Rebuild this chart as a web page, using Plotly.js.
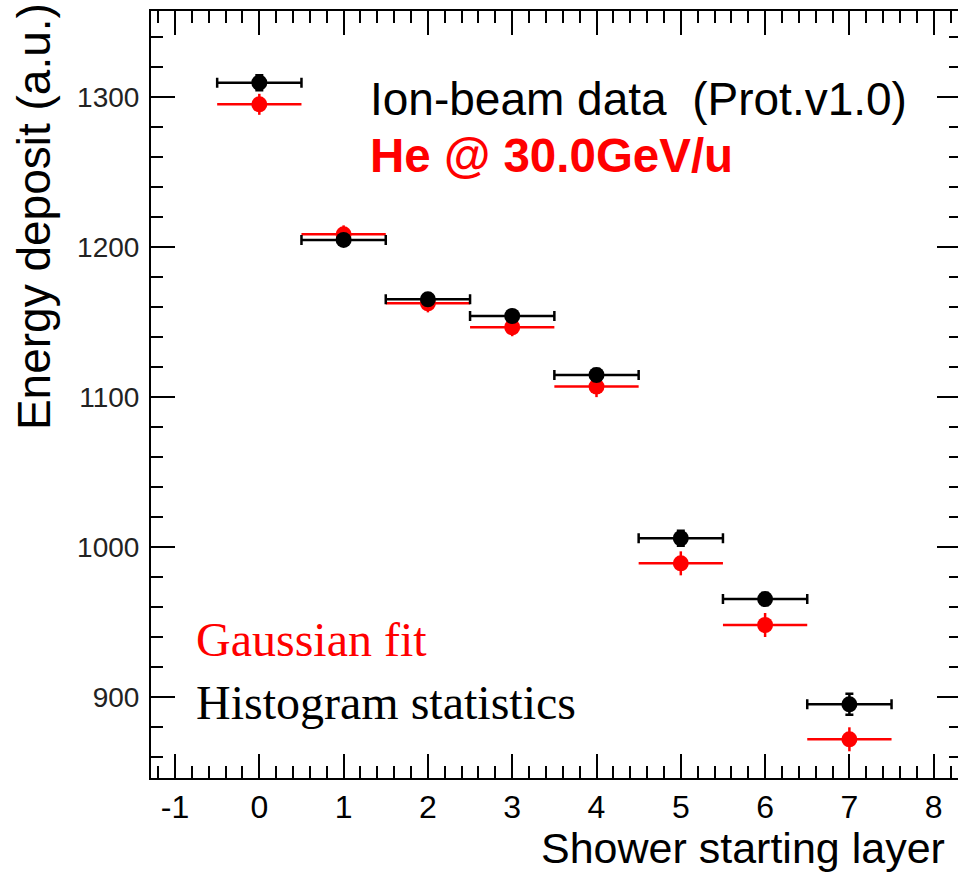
<!DOCTYPE html>
<html>
<head>
<meta charset="utf-8">
<script src="https://cdn.plot.ly/plotly-3.0.1.min.js"></script>
<style>html,body{margin:0;padding:0;background:#fff;overflow:hidden;}#chart{width:961px;height:874px;}</style>
</head>
<body>
<div id="chart"></div>
<script>
// Data
const showerLayer = [0, 1, 2, 3, 4, 5, 6, 7];
const layerHalfWidth = [0.5, 0.5, 0.5, 0.5, 0.5, 0.5, 0.5, 0.5];
const histogramMean = [1309.5, 1204.7, 1165.1, 1154.0, 1114.7, 1005.8, 965.3, 895.1];
const histogramErr = [5, 3, 3, 3, 4, 5, 4, 7];
const gaussianMean = [1295.1, 1208.4, 1162.4, 1146.5, 1106.9, 989.1, 948.0, 871.8];
const gaussianErr = [7, 6, 6, 6, 7, 8, 8, 8];

const xTickVals = [-1, 0, 1, 2, 3, 4, 5, 6, 7, 8];
const yTickVals = [900, 1000, 1100, 1200, 1300];

const SANS = '"Liberation Sans", Arial, Helvetica, sans-serif';
const SERIF = '"Liberation Serif", "Times New Roman", serif';

const gaussTrace = {
  x: showerLayer, y: gaussianMean, type: 'scatter', mode: 'markers', name: 'Gaussian fit',
  marker: {color: '#ff0000', size: 16, symbol: 'circle'},
  error_x: {type: 'data', array: layerHalfWidth, symmetric: true, color: '#ff0000', thickness: 2.5, width: 0},
  error_y: {type: 'data', array: gaussianErr, symmetric: true, color: '#ff0000', thickness: 2.5, width: 0},
  hoverinfo: 'x+y'
};
const histTrace = {
  x: showerLayer, y: histogramMean, type: 'scatter', mode: 'markers', name: 'Histogram statistics',
  marker: {color: '#000000', size: 16, symbol: 'circle'},
  error_x: {type: 'data', array: layerHalfWidth, symmetric: true, color: '#000000', thickness: 2.5, width: 5},
  error_y: {type: 'data', array: histogramErr, symmetric: true, color: '#000000', thickness: 2.5, width: 4},
  hoverinfo: 'x+y'
};

const axisCommon = {
  showgrid: false, zeroline: false, showline: true, linecolor: '#000', linewidth: 2,
  mirror: 'allticks', ticks: 'inside', ticklen: 24, tickwidth: 2, tickcolor: '#000'
};

const layout = {
  width: 961, height: 874,
  margin: {l: 151, r: 0, t: 11, b: 96, pad: 0},
  paper_bgcolor: '#fff', plot_bgcolor: '#fff',
  showlegend: false,
  font: {family: SANS, color: '#000'},
  xaxis: Object.assign({}, axisCommon, {
    range: [-1.285, 8.324],
    tickmode: 'array', tickvals: xTickVals, ticktext: xTickVals.map(String),
    tickfont: {family: SANS, size: 32, color: '#000'},
    minor: {dtick: 0.2, tick0: 0, ticks: 'inside', ticklen: 12, tickwidth: 2, tickcolor: '#000', showgrid: false},
    title: {text: ''}
  }),
  yaxis: Object.assign({}, axisCommon, {
    range: [846, 1357.3],
    tickmode: 'array', tickvals: yTickVals, ticktext: yTickVals.map(String),
    tickfont: {family: SANS, size: 28, color: '#222'},
    minor: {dtick: 20, tick0: 0, ticks: 'inside', ticklen: 12, tickwidth: 2, tickcolor: '#000', showgrid: false},
    ticklabelstandoff: 4,
    title: {text: ''}
  }),
  annotations: [
    {text: 'Shower starting layer', xref: 'paper', yref: 'paper', x: 0.982, y: -0.091,
     xanchor: 'right', yanchor: 'middle', borderpad: 0, showarrow: false, font: {family: SANS, size: 43, color: '#000'}},
    {text: 'Energy deposit (a.u.)', xref: 'paper', yref: 'paper', x: -0.145, y: 0.732,
     xanchor: 'center', yanchor: 'middle', textangle: -90, showarrow: false, font: {family: SANS, size: 46, color: '#000'}},
    {text: 'Ion-beam data\u00a0 (Prot.v1.0)', xref: 'paper', yref: 'paper', x: 0.268, y: 0.885,
     xanchor: 'left', yanchor: 'middle', showarrow: false, font: {family: SANS, size: 46, color: '#000'}},
    {text: '<b>He @ 30.0GeV/u</b>', xref: 'paper', yref: 'paper', x: 0.268, y: 0.812,
     xanchor: 'left', yanchor: 'middle', showarrow: false, font: {family: SANS, size: 47.5, color: '#ff0000'}},
    {text: 'Gaussian fit', xref: 'paper', yref: 'paper', x: 0.0525, y: 0.181,
     xanchor: 'left', yanchor: 'middle', showarrow: false, font: {family: SERIF, size: 48, color: '#ff0000'}},
    {text: 'Histogram statistics', xref: 'paper', yref: 'paper', x: 0.0525, y: 0.0985,
     xanchor: 'left', yanchor: 'middle', showarrow: false, font: {family: SERIF, size: 48, color: '#000'}}
  ]
};

Plotly.newPlot('chart', [gaussTrace, histTrace], layout, {staticPlot: true, displayModeBar: false});
</script>
</body>
</html>
